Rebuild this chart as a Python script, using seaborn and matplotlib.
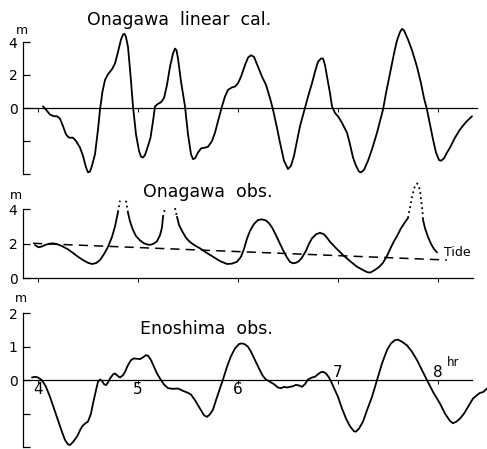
import numpy as np
import pandas as pd
import matplotlib
matplotlib.use("Agg")
import matplotlib.pyplot as plt
import seaborn as sns

# ---- Onagawa, linear calculation: (hour, metres) ----
cal_tv = [
    (4.05, 0.1), (4.08, -0.1), (4.12, -0.4), (4.16, -0.5), (4.19, -0.5),
    (4.22, -0.65), (4.25, -1.1), (4.28, -1.6), (4.31, -1.8), (4.35, -1.8),
    (4.38, -2.0), (4.42, -2.4), (4.45, -2.9), (4.48, -3.6), (4.50, -3.9),
    (4.52, -3.85), (4.54, -3.5), (4.57, -2.8), (4.60, -1.3), (4.62, -0.1),
    (4.645, 1.0), (4.67, 1.7), (4.70, 2.05), (4.74, 2.35), (4.77, 2.7),
    (4.80, 3.4), (4.83, 4.15), (4.85, 4.45), (4.865, 4.5), (4.88, 4.3),
    (4.90, 3.7), (4.925, 2.0), (4.95, 0.1), (4.98, -1.6), (5.01, -2.6),
    (5.03, -2.95), (5.05, -3.0), (5.07, -2.85), (5.10, -2.3), (5.125, -1.8),
    (5.15, -0.8), (5.17, 0.1), (5.20, 0.25), (5.23, 0.35), (5.26, 0.6),
    (5.29, 1.4), (5.32, 2.5), (5.35, 3.3), (5.37, 3.6), (5.385, 3.5),
    (5.40, 3.0), (5.43, 1.6), (5.47, 0.1), (5.50, -1.6), (5.53, -2.8),
    (5.55, -3.1), (5.57, -3.05), (5.60, -2.7), (5.63, -2.45), (5.67, -2.4),
    (5.70, -2.35), (5.74, -2.0), (5.77, -1.5), (5.80, -0.8), (5.84, 0.1),
    (5.87, 0.7), (5.90, 1.1), (5.94, 1.25), (5.97, 1.3), (6.00, 1.5),
    (6.03, 1.9), (6.07, 2.6), (6.10, 3.05), (6.13, 3.2), (6.16, 3.1),
    (6.20, 2.5), (6.24, 1.9), (6.28, 1.4), (6.32, 0.6), (6.35, -0.1),
    (6.39, -1.2), (6.42, -2.1), (6.46, -3.2), (6.50, -3.7), (6.53, -3.5),
    (6.56, -2.9), (6.59, -2.0), (6.62, -1.1), (6.67, 0.0), (6.71, 0.9),
    (6.74, 1.5), (6.77, 2.2), (6.80, 2.8), (6.83, 3.0), (6.85, 3.0),
    (6.87, 2.6), (6.89, 1.9), (6.92, 0.9), (6.94, 0.1), (6.97, -0.3),
    (7.00, -0.5), (7.04, -0.9), (7.09, -1.5), (7.12, -2.2), (7.15, -3.0),
    (7.18, -3.5), (7.21, -3.85), (7.23, -3.9), (7.26, -3.75), (7.30, -3.2),
    (7.34, -2.5), (7.39, -1.5), (7.45, -0.1), (7.48, 0.9), (7.52, 2.1),
    (7.56, 3.3), (7.59, 4.1), (7.62, 4.6), (7.64, 4.8), (7.66, 4.7),
    (7.70, 4.15), (7.74, 3.5), (7.79, 2.5), (7.83, 1.5), (7.86, 0.6),
    (7.89, -0.1), (7.92, -1.0), (7.95, -1.9), (7.98, -2.7), (8.01, -3.15),
    (8.03, -3.2), (8.06, -3.05), (8.09, -2.7), (8.12, -2.4), (8.17, -1.8),
    (8.22, -1.3), (8.28, -0.85), (8.34, -0.5),
]

# ---- Onagawa, observed: recorded stretches (solid) ----
obs_segments = [
    [(3.97, 1.93), (3.99, 1.85), (4.01, 1.8), (4.04, 1.85), (4.07, 1.93),
     (4.11, 2.0), (4.15, 2.03), (4.19, 1.98), (4.24, 1.87), (4.30, 1.68),
     (4.35, 1.47), (4.40, 1.25), (4.45, 1.06), (4.50, 0.9), (4.54, 0.83),
     (4.58, 0.88), (4.62, 1.06), (4.66, 1.4), (4.70, 1.83), (4.74, 2.4),
     (4.77, 3.0), (4.80, 3.84)],
    [(4.90, 3.8), (4.92, 3.3), (4.95, 2.8), (4.98, 2.45), (5.02, 2.2),
     (5.06, 2.03), (5.10, 1.95), (5.13, 1.95), (5.16, 2.02), (5.19, 2.15),
     (5.22, 2.5), (5.24, 2.95), (5.25, 3.57)],
    [(5.39, 3.57), (5.41, 3.1), (5.44, 2.75), (5.48, 2.35), (5.52, 2.1),
     (5.57, 1.9), (5.62, 1.74), (5.68, 1.5), (5.75, 1.25), (5.82, 1.0),
     (5.89, 0.83), (5.94, 0.85), (5.99, 0.96), (6.03, 1.25), (6.06, 1.7),
     (6.09, 2.3), (6.12, 2.75), (6.16, 3.15), (6.20, 3.38), (6.24, 3.42),
     (6.28, 3.35), (6.31, 3.2), (6.34, 2.95), (6.38, 2.5), (6.42, 2.0),
     (6.45, 1.64), (6.49, 1.2), (6.52, 0.95), (6.55, 0.87), (6.58, 0.9),
     (6.61, 1.0), (6.64, 1.2), (6.68, 1.6), (6.71, 2.0), (6.74, 2.32),
     (6.78, 2.55), (6.82, 2.64), (6.86, 2.55), (6.89, 2.35), (6.92, 2.12),
     (6.98, 1.75), (7.05, 1.35), (7.12, 1.0), (7.19, 0.67), (7.25, 0.48),
     (7.29, 0.36), (7.32, 0.33), (7.36, 0.45), (7.41, 0.65), (7.45, 0.9),
     (7.49, 1.3), (7.53, 1.8), (7.56, 2.15), (7.59, 2.45), (7.63, 2.9),
     (7.67, 3.25), (7.70, 3.5)],
    [(7.85, 3.4), (7.87, 2.9), (7.90, 2.4), (7.93, 2.0), (7.96, 1.7),
     (7.99, 1.5)],
]

# ---- Onagawa, observed: off-scale crests (dotted) ----
est_segments = [
    [(4.80, 3.84), (4.82, 4.5)],
    [(4.88, 4.5), (4.90, 3.8)],
    [(5.25, 3.57), (5.27, 4.07)],
    [(5.37, 4.07), (5.39, 3.57)],
    [(7.70, 3.5), (7.72, 4.1), (7.74, 4.7), (7.76, 5.2), (7.78, 5.45),
     (7.79, 5.5), (7.80, 5.45), (7.82, 5.1), (7.83, 4.6), (7.845, 3.9),
     (7.85, 3.4)],
]

# tide level at Onagawa
tide_t = [3.95, 8.09]
tide_v = [2.03, 1.06]

# ---- Enoshima, observed: (hour, metres) ----
eno_tv = [
    (3.94, 0.08), (3.97, 0.1), (4.00, 0.08), (4.03, 0.02), (4.05, -0.05),
    (4.08, -0.2), (4.12, -0.5), (4.16, -0.85), (4.20, -1.2), (4.24, -1.55),
    (4.27, -1.79), (4.30, -1.92), (4.32, -1.94), (4.35, -1.85), (4.39, -1.69),
    (4.42, -1.5), (4.44, -1.39), (4.47, -1.3), (4.50, -1.24), (4.53, -1.0),
    (4.55, -0.7), (4.58, -0.3), (4.60, -0.05), (4.62, 0.02), (4.64, -0.02),
    (4.66, -0.12), (4.68, -0.15), (4.70, -0.07), (4.72, 0.05), (4.75, 0.17),
    (4.77, 0.2), (4.80, 0.12), (4.82, 0.08), (4.85, 0.15), (4.87, 0.25),
    (4.90, 0.45), (4.93, 0.6), (4.96, 0.65), (4.99, 0.64), (5.02, 0.63),
    (5.05, 0.68), (5.08, 0.75), (5.10, 0.73), (5.13, 0.6), (5.16, 0.4),
    (5.19, 0.2), (5.22, 0.05), (5.26, -0.13), (5.30, -0.24), (5.35, -0.26),
    (5.40, -0.25), (5.45, -0.32), (5.50, -0.38), (5.53, -0.43), (5.57, -0.6),
    (5.62, -0.85), (5.66, -1.05), (5.69, -1.1), (5.72, -1.02), (5.75, -0.88),
    (5.78, -0.6), (5.82, -0.25), (5.85, 0.02), (5.89, 0.4), (5.93, 0.72),
    (5.97, 0.95), (6.01, 1.08), (6.04, 1.1), (6.07, 1.07), (6.10, 1.0),
    (6.13, 0.85), (6.17, 0.6), (6.21, 0.35), (6.25, 0.12), (6.28, 0.02),
    (6.32, -0.05), (6.36, -0.12), (6.40, -0.22), (6.43, -0.24), (6.46, -0.2),
    (6.49, -0.22), (6.52, -0.2), (6.55, -0.18), (6.58, -0.14), (6.61, -0.16),
    (6.64, -0.2), (6.67, -0.12), (6.70, 0.02), (6.74, 0.08), (6.77, 0.1),
    (6.80, 0.18), (6.83, 0.24), (6.85, 0.25), (6.88, 0.2), (6.91, 0.08),
    (6.94, -0.1), (6.97, -0.3), (7.00, -0.5), (7.04, -0.85), (7.08, -1.15),
    (7.12, -1.38), (7.16, -1.53), (7.18, -1.54), (7.21, -1.45), (7.25, -1.24),
    (7.29, -0.9), (7.34, -0.5), (7.39, 0.0), (7.44, 0.5), (7.49, 0.9),
    (7.53, 1.1), (7.57, 1.2), (7.60, 1.21), (7.64, 1.15), (7.69, 1.04),
    (7.74, 0.85), (7.79, 0.6), (7.84, 0.3), (7.89, 0.0), (7.95, -0.35),
    (8.02, -0.7), (8.07, -1.0), (8.12, -1.22), (8.15, -1.29), (8.18, -1.25),
    (8.22, -1.15), (8.26, -1.0), (8.30, -0.8), (8.35, -0.55), (8.39, -0.45),
    (8.42, -0.38), (8.45, -0.36), (8.49, -0.25),
]

hours = [4, 5, 6, 7, 8]
hour_labels = ["4", "5", "6", "7", "8"]


def frame(points):
    arr = np.asarray(points, dtype=float)
    return pd.DataFrame({"t": arr[:, 0], "v": arr[:, 1]})


def segment_frame(segments):
    parts = []
    for i, seg in enumerate(segments):
        df = frame(seg)
        df["seg"] = i
        parts.append(df)
    return pd.concat(parts, ignore_index=True)


# ---------------------------------------------------------------------------
sns.set_style("white")
plt.rcParams["font.family"] = ["DejaVu Sans"]
plt.rcParams["text.color"] = "black"
plt.rcParams["axes.labelcolor"] = "black"
plt.rcParams["xtick.color"] = "black"
plt.rcParams["ytick.color"] = "black"

W, H = 487, 449
fig = plt.figure(figsize=(W / 100, H / 100), dpi=100)

XLIM = (3.85, 8.49)


def px_axes(top, bottom):
    """Axes spanning the full time range between two pixel rows."""
    return fig.add_axes([23 / W, (H - bottom) / H, (W - 23) / W, (bottom - top) / H])


def style_axes(ax, ylo, yhi, yticks, ylabels, xend):
    ax.set_xlim(*XLIM)
    ax.set_facecolor("none")
    for s in ("top", "right"):
        ax.spines[s].set_visible(False)
    for s in ("left", "bottom"):
        ax.spines[s].set_color("black")
        ax.spines[s].set_linewidth(0.9)
    ax.spines["bottom"].set_position(("data", 0))
    ax.spines["bottom"].set_bounds(XLIM[0], xend)
    ax.spines["left"].set_bounds(ylo, yhi)
    ax.set_yticks(yticks)
    ax.set_yticklabels(ylabels)
    ax.set_xticks(hours)
    ax.set_xticklabels([])
    ax.tick_params(axis="y", direction="in", length=5, width=0.9, pad=4,
                   labelsize=10, colors="black", left=True)
    ax.tick_params(axis="x", direction="out", length=3, width=0.7,
                   colors="black", bottom=True)
    ax.set_xlabel("")
    ax.set_ylabel("")
    legend = ax.get_legend()
    if legend is not None:
        legend.remove()


# ---- panel 1: linear calculation ----
ax1 = px_axes(22.2, 174)
ax1.set_ylim(-4, 5.2)
sns.lineplot(data=frame(cal_tv), x="t", y="v", color="black", lw=1.3,
             sort=False, estimator=None, ax=ax1)
style_axes(ax1, -4, 4, [-4, -2, 0, 2, 4], ["", "", "0", "2", "4"], 8.39)

# ---- panel 2: Onagawa observed ----
ax2 = px_axes(178.3, 278.3)
ax2.set_ylim(0, 5.8)
sns.lineplot(data=segment_frame(obs_segments), x="t", y="v", units="seg",
             estimator=None, sort=False, color="black", lw=1.3, ax=ax2)
sns.lineplot(data=segment_frame(est_segments), x="t", y="v", units="seg",
             estimator=None, sort=False, color="black", lw=1.3,
             linestyle=(0, (1, 1.8)), ax=ax2)
for line in ax2.lines:
    line.set_clip_on(False)
sns.lineplot(data=pd.DataFrame({"t": tide_t, "v": tide_v}), x="t", y="v",
             color="black", lw=1.1, linestyle=(0, (6, 4)), ax=ax2)
ax2.text(tide_t[-1] - 0.03, tide_v[-1] + 0.45, "Tide", fontsize=9,
         ha="left", va="center")
style_axes(ax2, 0, 4, [0, 2, 4], ["0", "2", "4"], 8.35)

# ---- panel 3: Enoshima observed ----
ax3 = px_axes(313.3, 447)
ax3.set_ylim(-2, 2)
sns.lineplot(data=frame(eno_tv), x="t", y="v", color="black", lw=1.3,
             sort=False, estimator=None, ax=ax3)
ax3.lines[-1].set_clip_on(False)
style_axes(ax3, -2, 2, [-2, -1, 0, 1, 2], ["", "", "0", "1", "2"], 8.34)
for h, lab in zip(hours, hour_labels):
    below = h < 7
    ax3.text(h, -0.27 if below else 0.24, lab, fontsize=11,
             ha="center", va="center")
ax3.text(hours[-1] + 0.09, 0.52, "hr", fontsize=8.5, ha="left", va="center")

# ---- titles and unit marks ----
fig.text(87 / W, 1 - 20 / H, "Onagawa  linear  cal.", fontsize=12.5,
         ha="left", va="center")
fig.text(143 / W, 1 - 192 / H, "Onagawa  obs.", fontsize=12.5,
         ha="left", va="center")
fig.text(140 / W, 1 - 329 / H, "Enoshima  obs.", fontsize=12.5,
         ha="left", va="center")
fig.text(22 / W, 1 - 30 / H, "m", fontsize=9, ha="center", va="center")
fig.text(16 / W, 1 - 195 / H, "m", fontsize=9, ha="center", va="center")
fig.text(21 / W, 1 - 298 / H, "m", fontsize=9, ha="center", va="center")

fig.savefig("out.png", dpi=100, facecolor="white")
